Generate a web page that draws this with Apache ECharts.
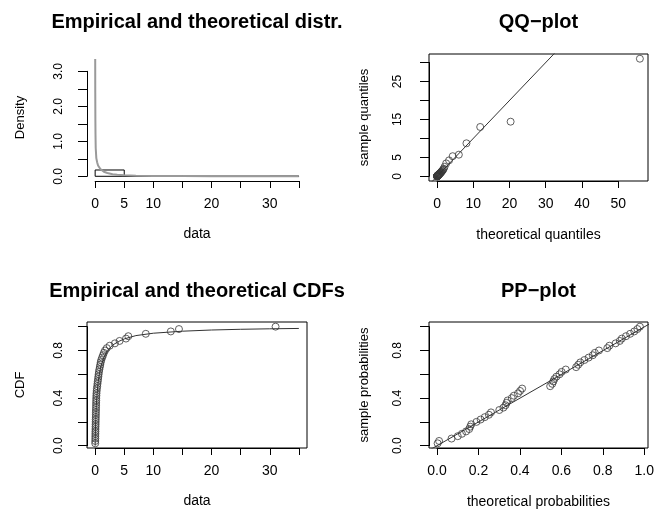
<!DOCTYPE html>
<html>
<head>
<meta charset="utf-8">
<title>Fit diagnostics</title>
<script src="https://cdn.jsdelivr.net/npm/echarts@6/dist/echarts.min.js"></script>
<style>
    html, body { margin: 0; padding: 0; background: #fff; }
    #main { width: 657px; height: 510px; }
</style>
</head>
<body>
<div id="main"></div>
<script>
// histogram bins: [start, end, density]
var histBins = [[0, 5, 0.18], [5, 10, 0.012], [10, 15, 0.008], [15, 20, 0], [20, 25, 0], [25, 30, 0], [30, 35, 0.004]];
// fitted density
var densityCurve = [[0.01, 3.35], [0.02, 2.4], [0.04, 1.6], [0.06, 1.2], [0.1, 0.8], [0.2, 0.52], [0.34, 0.4],
    [0.5, 0.31], [0.9, 0.21], [1.5, 0.13], [2.1, 0.095], [3, 0.06], [3.8, 0.045], [5, 0.03], [7, 0.018],
    [10, 0.011], [15, 0.006], [20, 0.004], [25, 0.0025], [30, 0.0018], [35, 0.0012]];
// sorted sample (50 values)
var sortedData = [0.01, 0.02, 0.03, 0.03, 0.04, 0.05, 0.06, 0.07, 0.08, 0.09,
    0.10, 0.11, 0.12, 0.13, 0.14, 0.15, 0.16, 0.17, 0.18, 0.19,
    0.21, 0.23, 0.26, 0.30, 0.36, 0.40, 0.45, 0.50, 0.55, 0.60,
    0.65, 0.72, 0.80, 0.88, 0.95, 1.05, 1.20, 1.35, 1.50, 1.70,
    2.00, 2.50, 3.40, 4.20, 5.30, 5.70, 8.70, 13.0, 14.4, 31.0];
var ecdfProbs = [0.02, 0.04, 0.06, 0.08, 0.10, 0.12, 0.14, 0.16, 0.18, 0.20,
    0.22, 0.24, 0.26, 0.28, 0.30, 0.32, 0.34, 0.36, 0.38, 0.40,
    0.42, 0.44, 0.46, 0.48, 0.50, 0.52, 0.54, 0.56, 0.58, 0.60,
    0.62, 0.64, 0.66, 0.68, 0.70, 0.72, 0.74, 0.76, 0.78, 0.80,
    0.82, 0.84, 0.86, 0.88, 0.90, 0.92, 0.94, 0.96, 0.98, 1.00];
var qqTheoretical = [0.00, 0.00, 0.01, 0.01, 0.02, 0.02, 0.03, 0.04, 0.05, 0.06,
    0.07, 0.08, 0.09, 0.10, 0.12, 0.13, 0.15, 0.17, 0.19, 0.21,
    0.23, 0.26, 0.29, 0.32, 0.36, 0.40, 0.45, 0.50, 0.55, 0.61,
    0.67, 0.74, 0.82, 0.90, 0.99, 1.09, 1.20, 1.33, 1.47, 1.63,
    1.82, 2.05, 2.50, 3.30, 4.30, 6.00, 8.10, 11.9, 20.3, 56.0];
var ppTheoretical = [0.003, 0.01, 0.07, 0.10, 0.12, 0.14, 0.155, 0.16, 0.165, 0.19,
    0.21, 0.23, 0.25, 0.26, 0.30, 0.32, 0.33, 0.335, 0.34, 0.36,
    0.37, 0.39, 0.40, 0.41, 0.545, 0.555, 0.56, 0.565, 0.575, 0.59,
    0.60, 0.62, 0.67, 0.68, 0.69, 0.71, 0.73, 0.75, 0.76, 0.78,
    0.82, 0.83, 0.86, 0.88, 0.89, 0.91, 0.93, 0.95, 0.965, 0.977];
// fitted CDF
var cdfCurve = [[0, 0], [0.02, 0.06], [0.05, 0.13], [0.1, 0.22], [0.2, 0.34], [0.3, 0.42], [0.5, 0.53],
    [0.75, 0.61], [1, 0.67], [1.5, 0.74], [2, 0.79], [3, 0.845], [4, 0.875], [5, 0.897], [7, 0.925],
    [10, 0.945], [15, 0.962], [20, 0.972], [25, 0.978], [30, 0.982], [35, 0.985]];
// abline(0, 1)
var qqLine = [[-10, -10], [100, 100]];
var ppLine = [[-1, -1], [2, 2]];

// tick labels that R kept
var histXLabels = [0, 5, 10, 20, 30];
var densYLabels = [0, 1, 2, 3];
var qqXLabels = [0, 10, 20, 30, 40, 50];
var qqYLabels = [0, 5, 15, 25];
var probXLabels = [0, 0.2, 0.4, 0.6, 0.8, 1];
var probYLabels = [0, 0.4, 0.8];

var FONT = '"Liberation Sans", Arial, sans-serif';

var panels = [
    {box: [87, 54, 307, 181], xr: [-1.4, 36.4], yr: [-0.1344, 3.4944], xt: [0, 35, 5], yt: [0, 3, 0.5],
        xl: histXLabels, yl: densYLabels, xd: 0, yd: 1, frame: false,
        xName: 'data', yName: 'Density', xGap: 46, yGap: 60, yMargin: 22, title: 'Empirical and theoretical distr.', ty: 22},
    {box: [429, 54, 648, 181], xr: [-2.24, 58.24], yr: [-1.24, 32.24], xt: [0, 50, 10], yt: [0, 30, 5],
        xl: qqXLabels, yl: qqYLabels, xd: 0, yd: 0, frame: true,
        xName: 'theoretical quantiles', yName: 'sample quantiles', xGap: 47, yGap: 58, yMargin: 25, title: 'QQ\u2212plot', ty: 22},
    {box: [87, 322, 307, 448], xr: [-1.4, 36.4], yr: [-0.0192, 1.0392], xt: [0, 35, 5], yt: [0, 1, 0.2],
        xl: histXLabels, yl: probYLabels, xd: 0, yd: 1, frame: true,
        xName: 'data', yName: 'CDF', xGap: 46, yGap: 60, yMargin: 22, title: 'Empirical and theoretical CDFs', ty: 291},
    {box: [429, 322, 648, 448], xr: [-0.0385, 1.016], yr: [-0.0192, 1.0392], xt: [0, 1, 0.2], yt: [0, 1, 0.2],
        xl: probXLabels, yl: probYLabels, xd: 1, yd: 1, frame: true,
        xName: 'theoretical probabilities', yName: 'sample probabilities', xGap: 47, yGap: 58, yMargin: 25, title: 'PP\u2212plot', ty: 291}
];

function pick(shown, dec) {
    return function (v) {
        for (var i = 0; i < shown.length; i++) {
            if (Math.abs(shown[i] - v) < 1e-6) return v.toFixed(dec);
        }
        return '';
    };
}

function zip(a, b) {
    var out = [];
    for (var i = 0; i < a.length; i++) out.push([a[i], b[i]]);
    return out;
}

var grid = [], xAxis = [], yAxis = [], graphic = [];
var xNameStyle = {fontFamily: FONT, fontSize: 14, color: '#000'};
var yNameStyle = {fontFamily: FONT, fontSize: 13, color: '#000'};

panels.forEach(function (p, k) {
    var l = p.box[0], t = p.box[1], r = p.box[2], b = p.box[3];
    var w = r - l, h = b - t;
    var sx = w / (p.xr[1] - p.xr[0]), sy = h / (p.yr[1] - p.yr[0]);
    // plot region (R's par("usr"))
    grid.push({left: l, top: t, width: w, height: h, show: p.frame,
        borderColor: '#000', borderWidth: 1, backgroundColor: 'transparent'});
    xAxis.push({gridIndex: 2 * k, type: 'value', min: p.xr[0], max: p.xr[1],
        axisLine: {show: false, onZero: false}, axisTick: {show: false}, axisLabel: {show: false}, splitLine: {show: false},
        name: p.xName, nameLocation: 'middle', nameGap: p.xGap, nameTextStyle: xNameStyle});
    yAxis.push({gridIndex: 2 * k, type: 'value', min: p.yr[0], max: p.yr[1],
        axisLine: {show: false, onZero: false}, axisTick: {show: false}, axisLabel: {show: false}, splitLine: {show: false},
        name: p.yName, nameLocation: 'middle', nameGap: p.yGap, nameTextStyle: yNameStyle});
    // axes only span the tick range, like R
    var al = l + (p.xt[0] - p.xr[0]) * sx, ar = l + (p.xt[1] - p.xr[0]) * sx;
    var at = t + (p.yr[1] - p.yt[1]) * sy, ab = t + (p.yr[1] - p.yt[0]) * sy;
    grid.push({left: al, top: at, width: ar - al, height: ab - at, show: false});
    xAxis.push({gridIndex: 2 * k + 1, type: 'value', position: 'bottom', min: p.xt[0], max: p.xt[1], interval: p.xt[2], offset: b - ab,
        axisLine: {show: true, onZero: false, lineStyle: {color: '#000', width: 1}},
        axisTick: {show: true, inside: false, length: 7, lineStyle: {color: '#000', width: 1}},
        axisLabel: {formatter: pick(p.xl, p.xd), margin: 16, fontFamily: FONT, fontSize: 14, color: '#000'},
        splitLine: {show: false}});
    yAxis.push({gridIndex: 2 * k + 1, type: 'value', position: 'left', min: p.yt[0], max: p.yt[1], interval: p.yt[2], offset: al - l,
        axisLine: {show: true, onZero: false, lineStyle: {color: '#000', width: 1}},
        axisTick: {show: true, inside: false, length: 9, lineStyle: {color: '#000', width: 1}},
        axisLabel: {formatter: pick(p.yl, p.yd), margin: p.yMargin, rotate: 90, fontFamily: FONT, fontSize: 12, color: '#000'},
        splitLine: {show: false}});
    graphic.push({type: 'text', x: (l + r) / 2, y: p.ty, silent: true,
        style: {text: p.title, font: 'bold 20px ' + FONT, fill: '#000', align: 'center', verticalAlign: 'middle'}});
});

var pointStyle = {color: 'rgba(0,0,0,0)', borderColor: '#3a3a3a', borderWidth: 1};

var option = {
    animation: false,
    backgroundColor: '#fff',
    grid: grid,
    xAxis: xAxis,
    yAxis: yAxis,
    graphic: graphic,
    series: [
        {
            type: 'custom', xAxisIndex: 0, yAxisIndex: 0, data: histBins,
            encode: {x: [0, 1], y: 2},
            renderItem: function (params, api) {
                var p0 = api.coord([api.value(0), api.value(2)]);
                var p1 = api.coord([api.value(1), 0]);
                return {type: 'rect',
                    shape: {x: p0[0], y: p0[1], width: p1[0] - p0[0], height: p1[1] - p0[1]},
                    style: {fill: 'none', stroke: '#000', lineWidth: 1}};
            }
        },
        {
            type: 'line', xAxisIndex: 0, yAxisIndex: 0, data: densityCurve, showSymbol: false,
            lineStyle: {color: '#9a9a9a', width: 2}
        },
        {
            type: 'scatter', xAxisIndex: 2, yAxisIndex: 2, data: zip(qqTheoretical, sortedData),
            symbol: 'circle', symbolSize: 7, itemStyle: pointStyle
        },
        {
            type: 'line', xAxisIndex: 2, yAxisIndex: 2, data: qqLine, showSymbol: false,
            lineStyle: {color: '#333', width: 1}
        },
        {
            type: 'scatter', xAxisIndex: 4, yAxisIndex: 4, data: zip(sortedData, ecdfProbs),
            symbol: 'circle', symbolSize: 7, itemStyle: pointStyle
        },
        {
            type: 'line', xAxisIndex: 4, yAxisIndex: 4, data: cdfCurve, showSymbol: false,
            lineStyle: {color: '#333', width: 1}
        },
        {
            type: 'scatter', xAxisIndex: 6, yAxisIndex: 6, data: zip(ppTheoretical, ecdfProbs),
            symbol: 'circle', symbolSize: 7, itemStyle: pointStyle
        },
        {
            type: 'line', xAxisIndex: 6, yAxisIndex: 6, data: ppLine, showSymbol: false,
            lineStyle: {color: '#333', width: 1}
        }
    ]
};

var myChart = echarts.init(document.getElementById('main'));
myChart.setOption(option);
</script>
</body>
</html>
